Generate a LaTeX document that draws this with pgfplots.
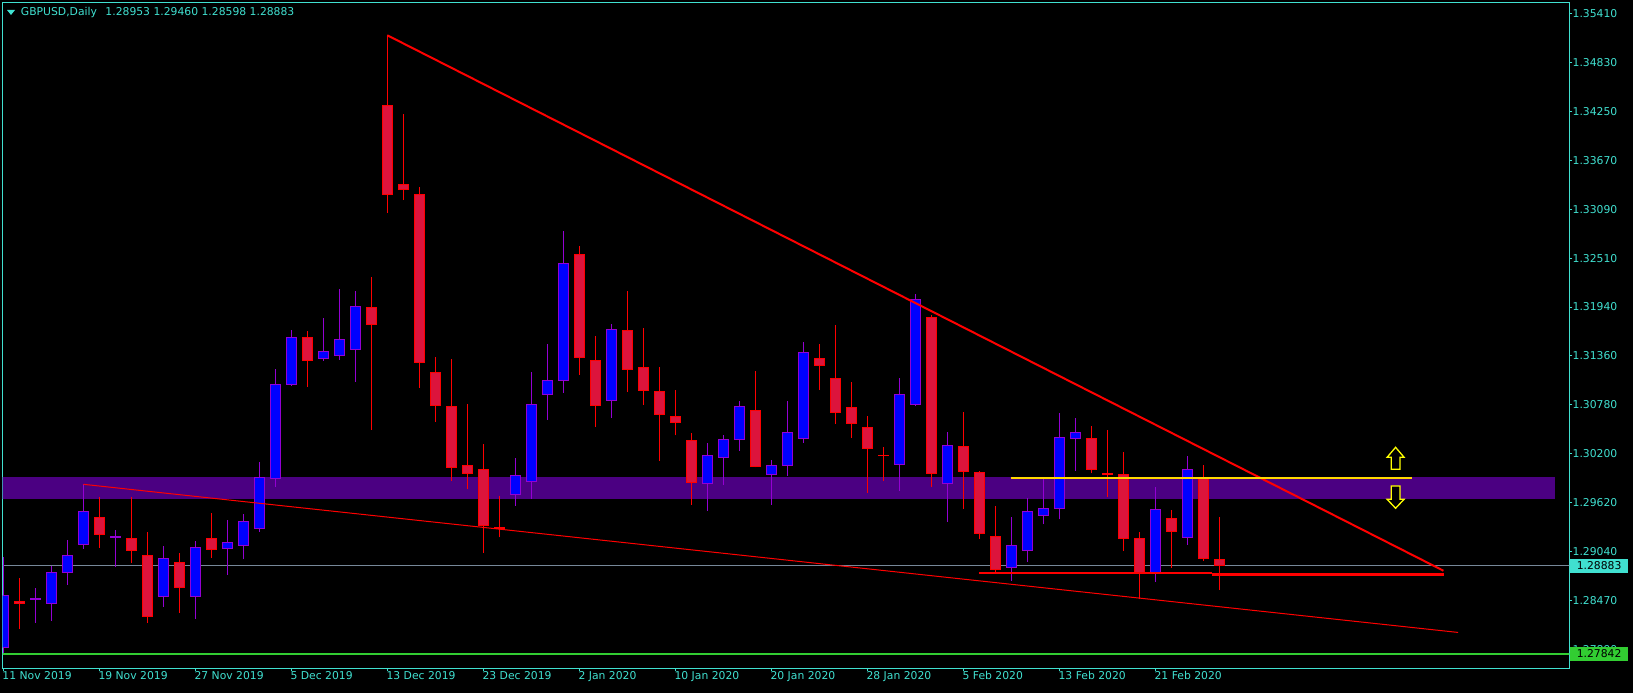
\documentclass[border=0pt]{standalone}
\usepackage{pgfplots}
\pgfplotsset{compat=1.18}
\usepackage{fontspec}
\newfontfamily\mtfont{DejaVu Sans}
\newcommand{\mtsize}{\mtfont\fontsize{10.8bp}{12bp}\selectfont}
\definecolor{mtcyan}{RGB}{64,224,208}
\definecolor{bullfill}{RGB}{0,0,255}
\definecolor{bullwick}{RGB}{148,0,211}
\definecolor{bearfill}{RGB}{220,20,60}
\definecolor{bearwick}{RGB}{255,0,0}
\definecolor{bandcol}{RGB}{75,0,130}
\definecolor{bidgray}{RGB}{119,136,153}
\definecolor{limeg}{RGB}{50,205,50}
\definecolor{goldc}{RGB}{255,215,0}
\definecolor{yell}{RGB}{255,255,0}
% candle: #1 index, #2 open, #3 high, #4 low, #5 close
\newcommand{\cdl}[7]{%
  \pgfmathsetmacro\xl{#1-0.31}%
  \pgfmathsetmacro\xr{#1+0.31}%
  \addplot[#6, line width=1bp, forget plot] coordinates {(#1,#4) (#1,#3)};
  \addplot[fill=#7, draw=#6, line width=1bp, forget plot] coordinates {(\xl,#2) (\xr,#2) (\xr,#5) (\xl,#5)} -- cycle;
}
\newcommand{\bull}[5]{\cdl{#1}{#2}{#3}{#4}{#5}{bullwick}{bullfill}}
\newcommand{\bear}[5]{\cdl{#1}{#2}{#3}{#4}{#5}{bearwick}{bearfill}}
\begin{document}
\begin{tikzpicture}
\useasboundingbox (-2.7bp,-25bp) rectangle (1630.3bp,668bp);
\fill[black] (-2.7bp,-25bp) rectangle (1630.3bp,668bp);
\begin{axis}[
  at={(0,0)}, anchor=south west, scale only axis,
  width=1566.6bp, height=665.7bp,
  xmin=-0.0375, xmax=97.875, ymin=1.27676, ymax=1.35540,
  axis line style={draw=mtcyan, line width=1bp},
  tick style={draw=mtcyan, line width=1bp},
  tick align=outside, major tick length=3bp,
  xtick pos=left, ytick pos=right, yticklabel pos=right,
  xtick={0,6,...,72},
  xticklabels={11 Nov 2019,19 Nov 2019,27 Nov 2019,5 Dec 2019,13 Dec 2019,23 Dec 2019,2 Jan 2020,10 Jan 2020,20 Jan 2020,28 Jan 2020,5 Feb 2020,13 Feb 2020,21 Feb 2020},
  ytick={1.35410,1.348317,1.342534,1.336751,1.330968,1.325185,1.319402,1.313619,1.307836,1.302053,1.296270,1.290487,1.284704,1.278921},
  yticklabels={1.35410,1.34830,1.34250,1.33670,1.33090,1.32510,1.31940,1.31360,1.30780,1.30200,1.29620,1.29040,1.28470,1.27890},
  ticklabel style={font=\mtsize, text=mtcyan, inner sep=0pt},
  yticklabel style={anchor=west},
  xticklabel style={anchor=north west, xshift=-1bp},
  clip=true,
]
% support band
\addplot[fill=bandcol, draw=none, forget plot] coordinates {(-1,1.29676) (97.0,1.29676) (97.0,1.29929) (-1,1.29929)} -- cycle;
% bid line and green level
\addplot[bidgray, line width=1bp, forget plot] coordinates {(-1,1.28883) (99,1.28883)};
\addplot[limeg, line width=2bp, forget plot] coordinates {(-1,1.27842) (99,1.27842)};
% candles
\bull{0}{1.27924}{1.28987}{1.27850}{1.28527}
\bear{1}{1.28464}{1.28743}{1.28140}{1.28440}
\bull{2}{1.28490}{1.28621}{1.28211}{1.28500}
\bull{3}{1.28440}{1.28881}{1.28235}{1.28807}
\bull{4}{1.28807}{1.29188}{1.28660}{1.29007}
\bull{5}{1.29137}{1.29850}{1.29085}{1.29527}
\bear{6}{1.29456}{1.29696}{1.29097}{1.29251}
\bull{7}{1.29215}{1.29306}{1.28869}{1.29225}
\bear{8}{1.29208}{1.29696}{1.28920}{1.29066}
\bear{9}{1.29007}{1.29283}{1.28211}{1.28282}
\bull{10}{1.28523}{1.29117}{1.28400}{1.28972}
\bear{11}{1.28925}{1.29035}{1.28329}{1.28629}
\bull{12}{1.28523}{1.29176}{1.28258}{1.29102}
\bear{13}{1.29208}{1.29507}{1.28979}{1.29078}
\bull{14}{1.29090}{1.29424}{1.28778}{1.29161}
\bull{15}{1.29126}{1.29495}{1.28960}{1.29409}
\bull{16}{1.29326}{1.30110}{1.29286}{1.29929}
\bull{17}{1.29917}{1.31208}{1.29814}{1.31027}
\bull{18}{1.31027}{1.31669}{1.31011}{1.31583}
\bear{19}{1.31583}{1.31654}{1.30999}{1.31306}
\bull{20}{1.31335}{1.31811}{1.31306}{1.31417}
\bull{21}{1.31370}{1.32153}{1.31318}{1.31559}
\bull{22}{1.31441}{1.32130}{1.31058}{1.31949}
\bear{23}{1.31937}{1.32295}{1.30491}{1.31736}
\bear{24}{1.34323}{1.35150}{1.33055}{1.33272}
\bear{25}{1.33390}{1.34220}{1.33208}{1.33331}
\bear{26}{1.33272}{1.33358}{1.30987}{1.31287}
\bear{27}{1.31169}{1.31350}{1.30586}{1.30779}
\bear{28}{1.30767}{1.31326}{1.29889}{1.30047}
\bear{29}{1.30071}{1.30795}{1.29785}{1.29976}
\bear{30}{1.30023}{1.30322}{1.29038}{1.29357}
\bear{31}{1.29330}{1.29708}{1.29220}{1.29322}
\bull{32}{1.29728}{1.30153}{1.29593}{1.29952}
\bull{33}{1.29882}{1.31173}{1.29676}{1.30791}
\bull{34}{1.30909}{1.31503}{1.30609}{1.31075}
\bull{35}{1.31075}{1.32835}{1.30928}{1.32457}
\bear{36}{1.32563}{1.32661}{1.31141}{1.31342}
\bear{37}{1.31311}{1.31598}{1.30526}{1.30779}
\bull{38}{1.30838}{1.31740}{1.30633}{1.31677}
\bear{39}{1.31665}{1.32130}{1.30940}{1.31205}
\bear{40}{1.31228}{1.31692}{1.30786}{1.30957}
\bear{41}{1.30945}{1.31232}{1.30125}{1.30673}
\bear{42}{1.30649}{1.30960}{1.30425}{1.30579}
\bear{43}{1.30366}{1.30449}{1.29605}{1.29870}
\bull{44}{1.29858}{1.30330}{1.29534}{1.30189}
\bull{45}{1.30165}{1.30425}{1.29841}{1.30378}
\bull{46}{1.30378}{1.30830}{1.30243}{1.30767}
\bear{47}{1.30720}{1.31181}{1.30047}{1.30059}
\bull{48}{1.29964}{1.30133}{1.29605}{1.30071}
\bull{49}{1.30071}{1.30830}{1.29950}{1.30460}
\bull{50}{1.30389}{1.31527}{1.30338}{1.31405}
\bear{51}{1.31335}{1.31503}{1.30964}{1.31252}
\bear{52}{1.31098}{1.31728}{1.30562}{1.30697}
\bear{53}{1.30756}{1.31055}{1.30397}{1.30567}
\bear{54}{1.30519}{1.30653}{1.29747}{1.30267}
\bear{55}{1.30192}{1.30287}{1.29889}{1.30186}
\bull{56}{1.30082}{1.31102}{1.29771}{1.30909}
\bull{57}{1.30791}{1.32094}{1.30767}{1.32032}
\bear{58}{1.31819}{1.31842}{1.29818}{1.29976}
\bull{59}{1.29858}{1.30464}{1.29404}{1.30307}
\bear{60}{1.30295}{1.30700}{1.29558}{1.29999}
\bear{61}{1.29988}{1.30003}{1.29203}{1.29267}
\bear{62}{1.29232}{1.29586}{1.28802}{1.28842}
\bull{63}{1.28866}{1.29460}{1.28707}{1.29126}
\bull{64}{1.29066}{1.29681}{1.28932}{1.29527}
\bull{65}{1.29480}{1.29921}{1.29374}{1.29563}
\bull{66}{1.29563}{1.30688}{1.29433}{1.30401}
\bull{67}{1.30389}{1.30629}{1.30007}{1.30460}
\bear{68}{1.30389}{1.30535}{1.29976}{1.30023}
\bear{69}{1.29972}{1.30488}{1.29700}{1.29964}
\bear{70}{1.29964}{1.30228}{1.29062}{1.29203}
\bear{71}{1.29208}{1.29279}{1.28488}{1.28802}
\bull{72}{1.28802}{1.29811}{1.28696}{1.29551}
\bear{73}{1.29444}{1.29539}{1.28861}{1.29291}
\bull{74}{1.29220}{1.30180}{1.29133}{1.30023}
\bear{75}{1.29929}{1.30071}{1.28944}{1.28967}
\bear{76}{1.28953}{1.29460}{1.28598}{1.28883}
% trendlines and levels
\addplot[bearwick, line width=2bp, forget plot] coordinates {(24,1.35150) (90.0,1.28825)};
\addplot[bearwick, line width=1bp, forget plot] coordinates {(5.0,1.29846) (90.92,1.28096)};
\addplot[goldc, line width=2.2bp, forget plot] coordinates {(62.96,1.29917) (88.06,1.29917)};
\addplot[bearwick, line width=2.5bp, forget plot] coordinates {(61.0,1.28796) (75.53,1.28796)};
\addplot[bearwick, line width=2.5bp, forget plot] coordinates {(75.53,1.28781) (90.04,1.28781)};
% arrows
\addplot[fill=black, draw=yell, line width=1.3bp, forget plot] coordinates {(87.01,1.30283) (87.54,1.30165) (87.28,1.30165) (87.28,1.30023) (86.74,1.30023) (86.74,1.30165) (86.48,1.30165)} -- cycle;
\addplot[fill=black, draw=yell, line width=1.3bp, forget plot] coordinates {(86.74,1.29826) (87.28,1.29826) (87.28,1.29669) (87.54,1.29669) (87.01,1.29563) (86.48,1.29669) (86.74,1.29669)} -- cycle;
\coordinate (bidR) at (axis cs:97.875,1.28883);
\coordinate (grnR) at (axis cs:97.875,1.27842);
\end{axis}
\node[fill=mtcyan, text=black, font=\mtsize, inner sep=0pt, minimum height=14bp, minimum width=58bp, anchor=west] at ([xshift=0.5bp]bidR) {1.28883};
\node[fill=limeg, text=black, font=\mtsize, inner sep=0pt, minimum height=14bp, minimum width=58bp, anchor=west] at ([xshift=0.5bp]grnR) {1.27842};
\fill[mtcyan] (4.3bp,658bp) -- (12.3bp,658bp) -- (8.3bp,653bp) -- cycle;
\node[anchor=west, inner sep=0pt, text=mtcyan, font=\mtsize] at (18bp,655.7bp) {GBPUSD,Daily\hspace{5bp} 1.28953 1.29460 1.28598 1.28883};
\end{tikzpicture}
\end{document}
